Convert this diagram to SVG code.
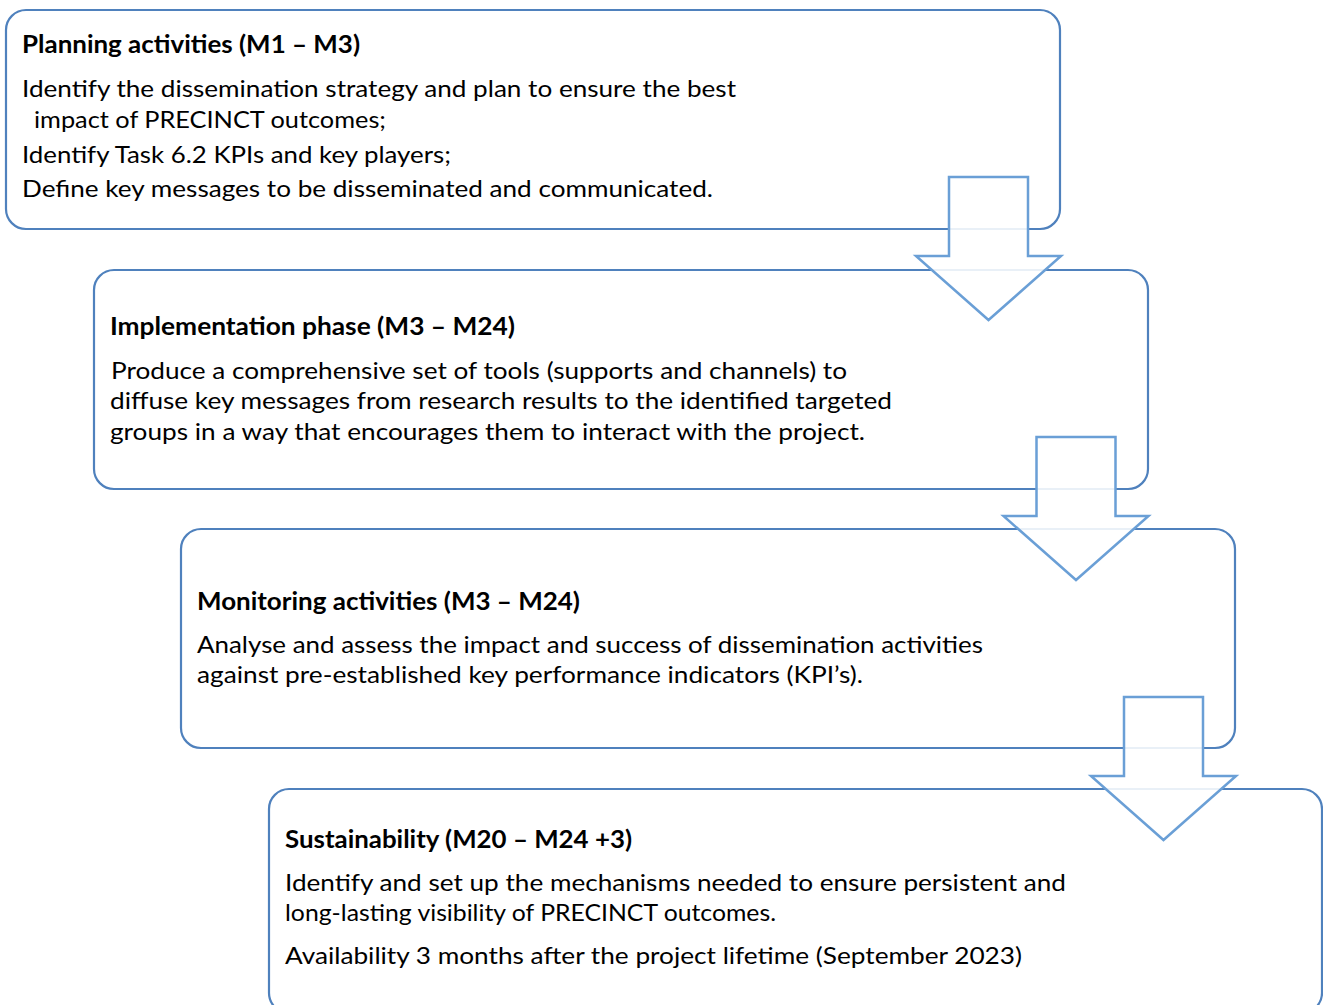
<svg xmlns="http://www.w3.org/2000/svg" width="1323" height="1005" viewBox="0 0 1323 1005">
<style>
.box{fill:#ffffff;stroke:#4F81BD;stroke-width:2.2}
.arrow{fill:#ffffff;fill-opacity:0.88;stroke:#6A9FD6;stroke-width:2.5;stroke-linejoin:miter}
text{font-family:Lato,"Open Sans","Liberation Sans",sans-serif;font-size:24px;fill:#000000}
.t{font-weight:bold}
</style>
<rect width="1323" height="1005" fill="#ffffff"/>
<g id="node-planning">
<rect class="box" x="6" y="10" width="1054" height="219" rx="20" ry="20"/>
<text class="t" x="22" y="53" textLength="338" lengthAdjust="spacingAndGlyphs">Planning activities (M1 – M3)</text>
<text x="22" y="97" textLength="714" lengthAdjust="spacingAndGlyphs">Identify the dissemination strategy and plan to ensure the best</text>
<text x="34" y="128" textLength="352" lengthAdjust="spacingAndGlyphs">impact of PRECINCT outcomes;</text>
<text x="22" y="163" textLength="429" lengthAdjust="spacingAndGlyphs">Identify Task 6.2 KPIs and key players;</text>
<text x="22" y="197" textLength="691" lengthAdjust="spacingAndGlyphs">Define key messages to be disseminated and communicated.</text>
</g>
<g id="node-implementation">
<rect class="box" x="94" y="270" width="1054" height="219" rx="20" ry="20"/>
<text class="t" x="110" y="335" textLength="405" lengthAdjust="spacingAndGlyphs">Implementation phase (M3 – M24)</text>
<text x="111" y="379" textLength="736" lengthAdjust="spacingAndGlyphs">Produce a comprehensive set of tools (supports and channels) to</text>
<text x="110" y="409" textLength="782" lengthAdjust="spacingAndGlyphs">diffuse key messages from research results to the identified targeted</text>
<text x="110" y="440" textLength="755" lengthAdjust="spacingAndGlyphs">groups in a way that encourages them to interact with the project.</text>
</g>
<g id="node-monitoring">
<rect class="box" x="181" y="529" width="1054" height="219" rx="20" ry="20"/>
<text class="t" x="197" y="610" textLength="383" lengthAdjust="spacingAndGlyphs">Monitoring activities (M3 – M24)</text>
<text x="197" y="653" textLength="786" lengthAdjust="spacingAndGlyphs">Analyse and assess the impact and success of dissemination activities</text>
<text x="197" y="683" textLength="666" lengthAdjust="spacingAndGlyphs">against pre-established key performance indicators (KPI’s).</text>
</g>
<g id="node-sustainability">
<rect class="box" x="269" y="789" width="1053" height="224" rx="20" ry="20"/>
<text class="t" x="285" y="848" textLength="347" lengthAdjust="spacingAndGlyphs">Sustainability (M20 – M24 +3)</text>
<text x="285" y="891" textLength="781" lengthAdjust="spacingAndGlyphs">Identify and set up the mechanisms needed to ensure persistent and</text>
<text x="285" y="921" textLength="491" lengthAdjust="spacingAndGlyphs">long-lasting visibility of PRECINCT outcomes.</text>
<text x="285" y="964" textLength="737" lengthAdjust="spacingAndGlyphs">Availability 3 months after the project lifetime (September 2023)</text>
</g>
<g id="connectors">
<path class="arrow" d="M949,177 H1028 V256 H1061 L988.5,320 L916,256 H949 Z"/>
<path class="arrow" d="M1036.5,437 H1115.5 V516 H1148.5 L1076,580 L1003.5,516 H1036.5 Z"/>
<path class="arrow" d="M1124,697 H1203 V776 H1236 L1163.5,840 L1091,776 H1124 Z"/>
</g>
</svg>
